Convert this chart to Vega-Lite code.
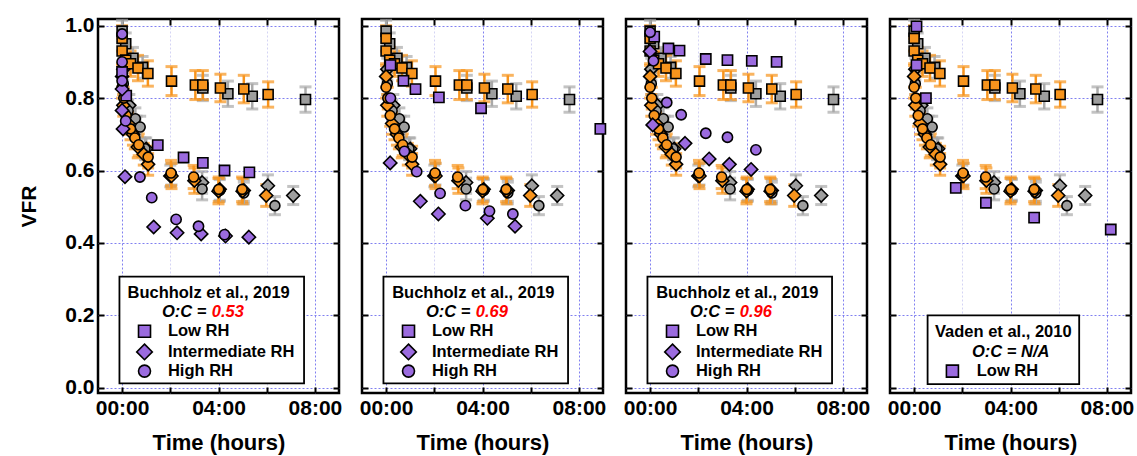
{
  "$schema": "https://vega.github.io/schema/vega-lite/v6.json",
  "background": "white",
  "padding": {"left": 17, "top": 13, "right": 0, "bottom": 0},
  "spacing": 23,
  "bounds": "flush",
  "config": {
    "font": "Liberation Sans",
    "view": {"stroke": "black", "strokeWidth": 2.5},
    "axis": {"domain": false, "tickColor": "black", "tickWidth": 2, "labelColor": "black", "titleColor": "black"}
  },
  "datasets": {
    "study": [
      {"run": "Run 1", "rh": "Low RH", "t": 0.0, "vfr": 0.985, "err": 0.03},
      {"run": "Run 1", "rh": "Low RH", "t": 0.15, "vfr": 0.95, "err": 0.03},
      {"run": "Run 1", "rh": "Low RH", "t": 0.45, "vfr": 0.91, "err": 0.03},
      {"run": "Run 1", "rh": "Low RH", "t": 0.85, "vfr": 0.885, "err": 0.03},
      {"run": "Run 1", "rh": "Low RH", "t": 3.35, "vfr": 0.828, "err": 0.035},
      {"run": "Run 1", "rh": "Low RH", "t": 4.39, "vfr": 0.812, "err": 0.035},
      {"run": "Run 1", "rh": "Low RH", "t": 5.4, "vfr": 0.805, "err": 0.035},
      {"run": "Run 1", "rh": "Low RH", "t": 7.61, "vfr": 0.796, "err": 0.035},
      {"run": "Run 1", "rh": "Intermediate RH", "t": 0.05, "vfr": 0.88, "err": 0.03},
      {"run": "Run 1", "rh": "Intermediate RH", "t": 0.3, "vfr": 0.78, "err": 0.03},
      {"run": "Run 1", "rh": "Intermediate RH", "t": 0.6, "vfr": 0.72, "err": 0.03},
      {"run": "Run 1", "rh": "Intermediate RH", "t": 1.0, "vfr": 0.66, "err": 0.03},
      {"run": "Run 1", "rh": "Intermediate RH", "t": 2.0, "vfr": 0.585, "err": 0.03},
      {"run": "Run 1", "rh": "Intermediate RH", "t": 3.32, "vfr": 0.567, "err": 0.03},
      {"run": "Run 1", "rh": "Intermediate RH", "t": 4.05, "vfr": 0.548, "err": 0.03},
      {"run": "Run 1", "rh": "Intermediate RH", "t": 5.05, "vfr": 0.545, "err": 0.03},
      {"run": "Run 1", "rh": "Intermediate RH", "t": 6.05, "vfr": 0.558, "err": 0.03},
      {"run": "Run 1", "rh": "Intermediate RH", "t": 7.1, "vfr": 0.531, "err": 0.025},
      {"run": "Run 1", "rh": "High RH", "t": 0.05, "vfr": 0.84, "err": 0.03},
      {"run": "Run 1", "rh": "High RH", "t": 0.25, "vfr": 0.765, "err": 0.03},
      {"run": "Run 1", "rh": "High RH", "t": 0.55, "vfr": 0.743, "err": 0.03},
      {"run": "Run 1", "rh": "High RH", "t": 0.75, "vfr": 0.72, "err": 0.03},
      {"run": "Run 1", "rh": "High RH", "t": 0.95, "vfr": 0.66, "err": 0.03},
      {"run": "Run 1", "rh": "High RH", "t": 2.05, "vfr": 0.59, "err": 0.03},
      {"run": "Run 1", "rh": "High RH", "t": 3.32, "vfr": 0.549, "err": 0.03},
      {"run": "Run 1", "rh": "High RH", "t": 4.05, "vfr": 0.545, "err": 0.03},
      {"run": "Run 1", "rh": "High RH", "t": 5.05, "vfr": 0.538, "err": 0.03},
      {"run": "Run 1", "rh": "High RH", "t": 6.34, "vfr": 0.503, "err": 0.025},
      {"run": "Run 2", "rh": "Low RH", "t": 0.0, "vfr": 0.965, "err": 0.035},
      {"run": "Run 2", "rh": "Low RH", "t": 0.0, "vfr": 0.93, "err": 0.035},
      {"run": "Run 2", "rh": "Low RH", "t": 0.15, "vfr": 0.905, "err": 0.035},
      {"run": "Run 2", "rh": "Low RH", "t": 0.35, "vfr": 0.895, "err": 0.035},
      {"run": "Run 2", "rh": "Low RH", "t": 0.66, "vfr": 0.883, "err": 0.035},
      {"run": "Run 2", "rh": "Low RH", "t": 1.07, "vfr": 0.868, "err": 0.035},
      {"run": "Run 2", "rh": "Low RH", "t": 2.05, "vfr": 0.847, "err": 0.04},
      {"run": "Run 2", "rh": "Low RH", "t": 3.04, "vfr": 0.836, "err": 0.04},
      {"run": "Run 2", "rh": "Low RH", "t": 3.35, "vfr": 0.836, "err": 0.04},
      {"run": "Run 2", "rh": "Low RH", "t": 4.08, "vfr": 0.828, "err": 0.038},
      {"run": "Run 2", "rh": "Low RH", "t": 5.05, "vfr": 0.825, "err": 0.038},
      {"run": "Run 2", "rh": "Low RH", "t": 6.06, "vfr": 0.81, "err": 0.035},
      {"run": "Run 2", "rh": "Intermediate RH", "t": 0.0, "vfr": 0.86, "err": 0.03},
      {"run": "Run 2", "rh": "Intermediate RH", "t": 0.05, "vfr": 0.78, "err": 0.03},
      {"run": "Run 2", "rh": "Intermediate RH", "t": 0.25, "vfr": 0.73, "err": 0.03},
      {"run": "Run 2", "rh": "Intermediate RH", "t": 0.45, "vfr": 0.7, "err": 0.03},
      {"run": "Run 2", "rh": "Intermediate RH", "t": 0.65, "vfr": 0.665, "err": 0.03},
      {"run": "Run 2", "rh": "Intermediate RH", "t": 0.9, "vfr": 0.645, "err": 0.03},
      {"run": "Run 2", "rh": "Intermediate RH", "t": 1.08, "vfr": 0.617, "err": 0.03},
      {"run": "Run 2", "rh": "Intermediate RH", "t": 2.05, "vfr": 0.585, "err": 0.035},
      {"run": "Run 2", "rh": "Intermediate RH", "t": 3.0, "vfr": 0.572, "err": 0.035},
      {"run": "Run 2", "rh": "Intermediate RH", "t": 4.0, "vfr": 0.543, "err": 0.035},
      {"run": "Run 2", "rh": "Intermediate RH", "t": 5.0, "vfr": 0.543, "err": 0.035},
      {"run": "Run 2", "rh": "Intermediate RH", "t": 5.98, "vfr": 0.531, "err": 0.03},
      {"run": "Run 2", "rh": "High RH", "t": 0.0, "vfr": 0.83, "err": 0.03},
      {"run": "Run 2", "rh": "High RH", "t": 0.07, "vfr": 0.8, "err": 0.03},
      {"run": "Run 2", "rh": "High RH", "t": 0.17, "vfr": 0.752, "err": 0.03},
      {"run": "Run 2", "rh": "High RH", "t": 0.35, "vfr": 0.715, "err": 0.03},
      {"run": "Run 2", "rh": "High RH", "t": 0.53, "vfr": 0.69, "err": 0.03},
      {"run": "Run 2", "rh": "High RH", "t": 0.69, "vfr": 0.671, "err": 0.03},
      {"run": "Run 2", "rh": "High RH", "t": 1.08, "vfr": 0.637, "err": 0.03},
      {"run": "Run 2", "rh": "High RH", "t": 2.03, "vfr": 0.593, "err": 0.035},
      {"run": "Run 2", "rh": "High RH", "t": 2.97, "vfr": 0.582, "err": 0.032},
      {"run": "Run 2", "rh": "High RH", "t": 4.01, "vfr": 0.548, "err": 0.034},
      {"run": "Run 2", "rh": "High RH", "t": 4.98, "vfr": 0.548, "err": 0.034}
    ],
    "lit": [
      {"oc": "0.53", "rh": "Low RH", "t": 0.0, "vfr": 0.872},
      {"oc": "0.53", "rh": "Low RH", "t": 0.17, "vfr": 0.807},
      {"oc": "0.53", "rh": "Low RH", "t": 1.48, "vfr": 0.67},
      {"oc": "0.53", "rh": "Low RH", "t": 2.55, "vfr": 0.636},
      {"oc": "0.53", "rh": "Low RH", "t": 3.35, "vfr": 0.621},
      {"oc": "0.53", "rh": "Low RH", "t": 4.25, "vfr": 0.6},
      {"oc": "0.53", "rh": "Low RH", "t": 5.28, "vfr": 0.595},
      {"oc": "0.53", "rh": "Intermediate RH", "t": 0.0, "vfr": 0.825},
      {"oc": "0.53", "rh": "Intermediate RH", "t": 0.0, "vfr": 0.766},
      {"oc": "0.53", "rh": "Intermediate RH", "t": 0.04, "vfr": 0.715},
      {"oc": "0.53", "rh": "Intermediate RH", "t": 0.12, "vfr": 0.583},
      {"oc": "0.53", "rh": "Intermediate RH", "t": 1.31, "vfr": 0.444},
      {"oc": "0.53", "rh": "Intermediate RH", "t": 2.28, "vfr": 0.428},
      {"oc": "0.53", "rh": "Intermediate RH", "t": 3.28, "vfr": 0.425},
      {"oc": "0.53", "rh": "Intermediate RH", "t": 4.29, "vfr": 0.419},
      {"oc": "0.53", "rh": "Intermediate RH", "t": 5.26, "vfr": 0.416},
      {"oc": "0.53", "rh": "High RH", "t": 0.0, "vfr": 0.977},
      {"oc": "0.53", "rh": "High RH", "t": 0.0, "vfr": 0.9},
      {"oc": "0.53", "rh": "High RH", "t": 0.0, "vfr": 0.848},
      {"oc": "0.53", "rh": "High RH", "t": 0.15, "vfr": 0.737},
      {"oc": "0.53", "rh": "High RH", "t": 0.74, "vfr": 0.582},
      {"oc": "0.53", "rh": "High RH", "t": 1.23, "vfr": 0.525},
      {"oc": "0.53", "rh": "High RH", "t": 2.24, "vfr": 0.465},
      {"oc": "0.53", "rh": "High RH", "t": 3.17, "vfr": 0.446},
      {"oc": "0.53", "rh": "High RH", "t": 4.25, "vfr": 0.423},
      {"oc": "0.69", "rh": "Low RH", "t": 0.18, "vfr": 0.891},
      {"oc": "0.69", "rh": "Low RH", "t": 0.72, "vfr": 0.848},
      {"oc": "0.69", "rh": "Low RH", "t": 1.22, "vfr": 0.825},
      {"oc": "0.69", "rh": "Low RH", "t": 2.19, "vfr": 0.802},
      {"oc": "0.69", "rh": "Low RH", "t": 3.94, "vfr": 0.772},
      {"oc": "0.69", "rh": "Low RH", "t": 8.89, "vfr": 0.715},
      {"oc": "0.69", "rh": "Intermediate RH", "t": 0.17, "vfr": 0.621},
      {"oc": "0.69", "rh": "Intermediate RH", "t": 1.42, "vfr": 0.515},
      {"oc": "0.69", "rh": "Intermediate RH", "t": 2.17, "vfr": 0.48},
      {"oc": "0.69", "rh": "Intermediate RH", "t": 4.2, "vfr": 0.468},
      {"oc": "0.69", "rh": "Intermediate RH", "t": 5.35, "vfr": 0.446},
      {"oc": "0.69", "rh": "High RH", "t": 0.18, "vfr": 0.8},
      {"oc": "0.69", "rh": "High RH", "t": 0.76, "vfr": 0.653},
      {"oc": "0.69", "rh": "High RH", "t": 1.27, "vfr": 0.597},
      {"oc": "0.69", "rh": "High RH", "t": 2.24, "vfr": 0.537},
      {"oc": "0.69", "rh": "High RH", "t": 3.29, "vfr": 0.503},
      {"oc": "0.69", "rh": "High RH", "t": 4.29, "vfr": 0.488},
      {"oc": "0.69", "rh": "High RH", "t": 5.26, "vfr": 0.48},
      {"oc": "0.96", "rh": "Low RH", "t": 0.17, "vfr": 0.97},
      {"oc": "0.96", "rh": "Low RH", "t": 0.76, "vfr": 0.937},
      {"oc": "0.96", "rh": "Low RH", "t": 1.22, "vfr": 0.931},
      {"oc": "0.96", "rh": "Low RH", "t": 2.31, "vfr": 0.908},
      {"oc": "0.96", "rh": "Low RH", "t": 3.21, "vfr": 0.905},
      {"oc": "0.96", "rh": "Low RH", "t": 4.22, "vfr": 0.903},
      {"oc": "0.96", "rh": "Low RH", "t": 5.25, "vfr": 0.9},
      {"oc": "0.96", "rh": "Intermediate RH", "t": 0.0, "vfr": 0.929},
      {"oc": "0.96", "rh": "Intermediate RH", "t": 0.11, "vfr": 0.726},
      {"oc": "0.96", "rh": "Intermediate RH", "t": 1.45, "vfr": 0.675},
      {"oc": "0.96", "rh": "Intermediate RH", "t": 2.45, "vfr": 0.632},
      {"oc": "0.96", "rh": "Intermediate RH", "t": 3.29, "vfr": 0.617},
      {"oc": "0.96", "rh": "Intermediate RH", "t": 4.19, "vfr": 0.603},
      {"oc": "0.96", "rh": "High RH", "t": 0.0, "vfr": 0.982},
      {"oc": "0.96", "rh": "High RH", "t": 0.14, "vfr": 0.903},
      {"oc": "0.96", "rh": "High RH", "t": 0.69, "vfr": 0.788},
      {"oc": "0.96", "rh": "High RH", "t": 1.29, "vfr": 0.754},
      {"oc": "0.96", "rh": "High RH", "t": 2.31, "vfr": 0.703},
      {"oc": "0.96", "rh": "High RH", "t": 3.21, "vfr": 0.692},
      {"oc": "0.96", "rh": "High RH", "t": 4.39, "vfr": 0.657},
      {"oc": "N/A", "rh": "Low RH", "t": 0.1, "vfr": 0.998},
      {"oc": "N/A", "rh": "Low RH", "t": 0.1, "vfr": 0.891},
      {"oc": "N/A", "rh": "Low RH", "t": 0.49, "vfr": 0.8},
      {"oc": "N/A", "rh": "Low RH", "t": 1.73, "vfr": 0.552},
      {"oc": "N/A", "rh": "Low RH", "t": 2.98, "vfr": 0.511},
      {"oc": "N/A", "rh": "Low RH", "t": 4.98, "vfr": 0.47},
      {"oc": "N/A", "rh": "Low RH", "t": 8.16, "vfr": 0.437}
    ]
  },
  "hconcat": [
    {
      "width": 241, "height": 374,
      "layer": [
        {"data": {"name": "study"},
         "mark": {"type": "errorbar", "thickness": 2.5, "ticks": {"size": 12, "thickness": 3}},
         "encoding": {
           "x": {"field": "t", "type": "quantitative", "scale": {"domain": [-1, 9], "nice": false, "zero": false}, "axis": null},
           "y": {"field": "vfr", "type": "quantitative", "scale": {"domain": [-0.0145, 1.0185], "nice": false, "zero": false}, "axis": null},
           "yError": {"field": "err"},
           "color": {"field": "run", "type": "nominal", "scale": {"domain": ["Run 1", "Run 2"], "range": ["#a9a9a9", "#f7941d"]}, "legend": null}
         }},
        {"data": {"name": "study"},
         "mark": {"type": "point", "filled": true, "opacity": 1, "stroke": "black", "strokeWidth": 1.6, "size": 100},
         "encoding": {
           "x": {"field": "t", "type": "quantitative", "scale": {"domain": [-1, 9], "nice": false, "zero": false},
                 "axis": {"orient": "bottom", "values": [0, 2, 4, 6, 8], "title": "Time (hours)", "titleFontSize": 22, "titleFontWeight": "bold", "titlePadding": 14,
                          "labelFontSize": 21, "labelFontWeight": "bold", "labelPadding": 10, "labelExpr": "datum.value % 4 === 0 ? '0' + datum.value + ':00' : ''",
                          "tickSize": -6, "grid": true, "gridDash": [2, 2], "gridWidth": 1,
                          "gridColor": {"condition": {"test": "datum.value % 4 === 0", "value": "#8080f0"}, "value": "#d4d4f4"}}},
           "y": {"field": "vfr", "type": "quantitative", "scale": {"domain": [-0.0145, 1.0185], "nice": false, "zero": false},
                 "axis": {"orient": "left", "values": [0, 0.2, 0.4, 0.6, 0.8, 1.0], "format": ".1f", "title": "VFR", "titleFontSize": 21, "titleFontWeight": "bold", "titlePadding": 25,
                          "labelFontSize": 21, "labelFontWeight": "bold", "labelPadding": 10, "tickSize": -6,
                          "grid": true, "gridDash": [2, 2], "gridWidth": 1, "gridColor": "#8080f0"}},
           "shape": {"field": "rh", "type": "nominal", "scale": {"domain": ["Low RH", "Intermediate RH", "High RH"], "range": ["square", "M0,-1.3L1.3,0L0,1.3L-1.3,0Z", "circle"]}, "legend": null},
           "fill": {"field": "run", "type": "nominal", "scale": {"domain": ["Run 1", "Run 2"], "range": ["#9e9e9e", "#f7941d"]}, "legend": null}
         }},
        {"data": {"name": "lit"},
         "transform": [{"filter": "datum.oc === '0.53'"}],
         "mark": {"type": "point", "filled": true, "opacity": 1, "fill": "#9b6bdf", "stroke": "black", "strokeWidth": 1.6, "size": 105},
         "encoding": {
           "x": {"field": "t", "type": "quantitative", "scale": {"domain": [-1, 9], "nice": false, "zero": false},
                 "axis": {"orient": "top", "values": [0, 2, 4, 6, 8], "labels": false, "title": null, "tickSize": -6, "grid": false}},
           "y": {"field": "vfr", "type": "quantitative", "scale": {"domain": [-0.0145, 1.0185], "nice": false, "zero": false},
                 "axis": {"orient": "right", "values": [0, 0.2, 0.4, 0.6, 0.8, 1.0], "labels": false, "title": null, "tickSize": -6, "grid": false}},
           "shape": {"field": "rh", "type": "nominal", "scale": {"domain": ["Low RH", "Intermediate RH", "High RH"], "range": ["square", "M0,-1.3L1.3,0L0,1.3L-1.3,0Z", "circle"]}, "legend": null}
         }},
        {"data": {"values": [{}]}, "mark": {"type": "rect", "fill": "white", "stroke": "black", "strokeWidth": 1.8},
         "encoding": {"x": {"datum": -0.11, "type": "quantitative", "axis": null}, "x2": {"datum": 7.55}, "y": {"datum": 0.307, "type": "quantitative", "axis": null}, "y2": {"datum": 0.012}}},
        {"data": {"values": [{}]}, "mark": {"type": "text", "text": "Buchholz et al., 2019", "fontSize": 16.5, "fontWeight": "bold", "align": "center", "baseline": "middle"},
         "encoding": {"x": {"datum": 3.59, "type": "quantitative", "axis": null}, "y": {"datum": 0.263, "type": "quantitative", "axis": null}}},
        {"data": {"values": [{}]}, "mark": {"type": "text", "text": "O:C =", "fontSize": 16.5, "fontWeight": "bold", "fontStyle": "italic", "align": "right", "baseline": "middle"},
         "encoding": {"x": {"datum": 3.5, "type": "quantitative", "axis": null}, "y": {"datum": 0.208, "type": "quantitative", "axis": null}}},
        {"data": {"values": [{}]}, "mark": {"type": "text", "text": "0.53", "color": "#ff0000", "fontSize": 16.5, "fontWeight": "bold", "fontStyle": "italic", "align": "left", "baseline": "middle"},
         "encoding": {"x": {"datum": 3.72, "type": "quantitative", "axis": null}, "y": {"datum": 0.208, "type": "quantitative", "axis": null}}},
        {"data": {"values": [{}]}, "mark": {"type": "point", "shape": "square", "filled": true, "opacity": 1, "fill": "#9b6bdf", "stroke": "black", "strokeWidth": 1.6, "size": 144},
         "encoding": {"x": {"datum": 0.93, "type": "quantitative", "axis": null}, "y": {"datum": 0.156, "type": "quantitative", "axis": null}}},
        {"data": {"values": [{}]}, "mark": {"type": "point", "shape": "M0,-1.3L1.3,0L0,1.3L-1.3,0Z", "filled": true, "opacity": 1, "fill": "#9b6bdf", "stroke": "black", "strokeWidth": 1.6, "size": 144},
         "encoding": {"x": {"datum": 0.93, "type": "quantitative", "axis": null}, "y": {"datum": 0.099, "type": "quantitative", "axis": null}}},
        {"data": {"values": [{}]}, "mark": {"type": "point", "shape": "circle", "filled": true, "opacity": 1, "fill": "#9b6bdf", "stroke": "black", "strokeWidth": 1.6, "size": 144},
         "encoding": {"x": {"datum": 0.93, "type": "quantitative", "axis": null}, "y": {"datum": 0.046, "type": "quantitative", "axis": null}}},
        {"data": {"values": [{}]}, "mark": {"type": "text", "text": "Low RH", "fontSize": 16.5, "fontWeight": "bold", "align": "left", "baseline": "middle"},
         "encoding": {"x": {"datum": 1.9, "type": "quantitative", "axis": null}, "y": {"datum": 0.156, "type": "quantitative", "axis": null}}},
        {"data": {"values": [{}]}, "mark": {"type": "text", "text": "Intermediate RH", "fontSize": 16.5, "fontWeight": "bold", "align": "left", "baseline": "middle"},
         "encoding": {"x": {"datum": 1.9, "type": "quantitative", "axis": null}, "y": {"datum": 0.099, "type": "quantitative", "axis": null}}},
        {"data": {"values": [{}]}, "mark": {"type": "text", "text": "High RH", "fontSize": 16.5, "fontWeight": "bold", "align": "left", "baseline": "middle"},
         "encoding": {"x": {"datum": 1.9, "type": "quantitative", "axis": null}, "y": {"datum": 0.046, "type": "quantitative", "axis": null}}}
      ]
    },
    {
      "width": 241, "height": 374,
      "layer": [
        {"data": {"name": "study"},
         "mark": {"type": "errorbar", "thickness": 2.5, "ticks": {"size": 12, "thickness": 3}},
         "encoding": {
           "x": {"field": "t", "type": "quantitative", "scale": {"domain": [-1, 9], "nice": false, "zero": false}, "axis": null},
           "y": {"field": "vfr", "type": "quantitative", "scale": {"domain": [-0.0145, 1.0185], "nice": false, "zero": false}, "axis": null},
           "yError": {"field": "err"},
           "color": {"field": "run", "type": "nominal", "scale": {"domain": ["Run 1", "Run 2"], "range": ["#a9a9a9", "#f7941d"]}, "legend": null}
         }},
        {"data": {"name": "study"},
         "mark": {"type": "point", "filled": true, "opacity": 1, "stroke": "black", "strokeWidth": 1.6, "size": 100},
         "encoding": {
           "x": {"field": "t", "type": "quantitative", "scale": {"domain": [-1, 9], "nice": false, "zero": false},
                 "axis": {"orient": "bottom", "values": [0, 2, 4, 6, 8], "title": "Time (hours)", "titleFontSize": 22, "titleFontWeight": "bold", "titlePadding": 14,
                          "labelFontSize": 21, "labelFontWeight": "bold", "labelPadding": 10, "labelExpr": "datum.value % 4 === 0 ? '0' + datum.value + ':00' : ''",
                          "tickSize": -6, "grid": true, "gridDash": [2, 2], "gridWidth": 1,
                          "gridColor": {"condition": {"test": "datum.value % 4 === 0", "value": "#8080f0"}, "value": "#d4d4f4"}}},
           "y": {"field": "vfr", "type": "quantitative", "scale": {"domain": [-0.0145, 1.0185], "nice": false, "zero": false},
                 "axis": {"orient": "left", "values": [0, 0.2, 0.4, 0.6, 0.8, 1.0], "labels": false, "title": null, "tickSize": -6,
                          "grid": true, "gridDash": [2, 2], "gridWidth": 1, "gridColor": "#8080f0"}},
           "shape": {"field": "rh", "type": "nominal", "scale": {"domain": ["Low RH", "Intermediate RH", "High RH"], "range": ["square", "M0,-1.3L1.3,0L0,1.3L-1.3,0Z", "circle"]}, "legend": null},
           "fill": {"field": "run", "type": "nominal", "scale": {"domain": ["Run 1", "Run 2"], "range": ["#9e9e9e", "#f7941d"]}, "legend": null}
         }},
        {"data": {"name": "lit"},
         "transform": [{"filter": "datum.oc === '0.69'"}],
         "mark": {"type": "point", "filled": true, "opacity": 1, "fill": "#9b6bdf", "stroke": "black", "strokeWidth": 1.6, "size": 105},
         "encoding": {
           "x": {"field": "t", "type": "quantitative", "scale": {"domain": [-1, 9], "nice": false, "zero": false},
                 "axis": {"orient": "top", "values": [0, 2, 4, 6, 8], "labels": false, "title": null, "tickSize": -6, "grid": false}},
           "y": {"field": "vfr", "type": "quantitative", "scale": {"domain": [-0.0145, 1.0185], "nice": false, "zero": false},
                 "axis": {"orient": "right", "values": [0, 0.2, 0.4, 0.6, 0.8, 1.0], "labels": false, "title": null, "tickSize": -6, "grid": false}},
           "shape": {"field": "rh", "type": "nominal", "scale": {"domain": ["Low RH", "Intermediate RH", "High RH"], "range": ["square", "M0,-1.3L1.3,0L0,1.3L-1.3,0Z", "circle"]}, "legend": null}
         }},
        {"data": {"values": [{}]}, "mark": {"type": "rect", "fill": "white", "stroke": "black", "strokeWidth": 1.8},
         "encoding": {"x": {"datum": -0.11, "type": "quantitative", "axis": null}, "x2": {"datum": 7.55}, "y": {"datum": 0.307, "type": "quantitative", "axis": null}, "y2": {"datum": 0.012}}},
        {"data": {"values": [{}]}, "mark": {"type": "text", "text": "Buchholz et al., 2019", "fontSize": 16.5, "fontWeight": "bold", "align": "center", "baseline": "middle"},
         "encoding": {"x": {"datum": 3.62, "type": "quantitative", "axis": null}, "y": {"datum": 0.263, "type": "quantitative", "axis": null}}},
        {"data": {"values": [{}]}, "mark": {"type": "text", "text": "O:C =", "fontSize": 16.5, "fontWeight": "bold", "fontStyle": "italic", "align": "right", "baseline": "middle"},
         "encoding": {"x": {"datum": 3.5, "type": "quantitative", "axis": null}, "y": {"datum": 0.208, "type": "quantitative", "axis": null}}},
        {"data": {"values": [{}]}, "mark": {"type": "text", "text": "0.69", "color": "#ff0000", "fontSize": 16.5, "fontWeight": "bold", "fontStyle": "italic", "align": "left", "baseline": "middle"},
         "encoding": {"x": {"datum": 3.72, "type": "quantitative", "axis": null}, "y": {"datum": 0.208, "type": "quantitative", "axis": null}}},
        {"data": {"values": [{}]}, "mark": {"type": "point", "shape": "square", "filled": true, "opacity": 1, "fill": "#9b6bdf", "stroke": "black", "strokeWidth": 1.6, "size": 144},
         "encoding": {"x": {"datum": 0.93, "type": "quantitative", "axis": null}, "y": {"datum": 0.156, "type": "quantitative", "axis": null}}},
        {"data": {"values": [{}]}, "mark": {"type": "point", "shape": "M0,-1.3L1.3,0L0,1.3L-1.3,0Z", "filled": true, "opacity": 1, "fill": "#9b6bdf", "stroke": "black", "strokeWidth": 1.6, "size": 144},
         "encoding": {"x": {"datum": 0.93, "type": "quantitative", "axis": null}, "y": {"datum": 0.099, "type": "quantitative", "axis": null}}},
        {"data": {"values": [{}]}, "mark": {"type": "point", "shape": "circle", "filled": true, "opacity": 1, "fill": "#9b6bdf", "stroke": "black", "strokeWidth": 1.6, "size": 144},
         "encoding": {"x": {"datum": 0.93, "type": "quantitative", "axis": null}, "y": {"datum": 0.046, "type": "quantitative", "axis": null}}},
        {"data": {"values": [{}]}, "mark": {"type": "text", "text": "Low RH", "fontSize": 16.5, "fontWeight": "bold", "align": "left", "baseline": "middle"},
         "encoding": {"x": {"datum": 1.9, "type": "quantitative", "axis": null}, "y": {"datum": 0.156, "type": "quantitative", "axis": null}}},
        {"data": {"values": [{}]}, "mark": {"type": "text", "text": "Intermediate RH", "fontSize": 16.5, "fontWeight": "bold", "align": "left", "baseline": "middle"},
         "encoding": {"x": {"datum": 1.9, "type": "quantitative", "axis": null}, "y": {"datum": 0.099, "type": "quantitative", "axis": null}}},
        {"data": {"values": [{}]}, "mark": {"type": "text", "text": "High RH", "fontSize": 16.5, "fontWeight": "bold", "align": "left", "baseline": "middle"},
         "encoding": {"x": {"datum": 1.9, "type": "quantitative", "axis": null}, "y": {"datum": 0.046, "type": "quantitative", "axis": null}}}
      ]
    },
    {
      "width": 241, "height": 374,
      "layer": [
        {"data": {"name": "study"},
         "mark": {"type": "errorbar", "thickness": 2.5, "ticks": {"size": 12, "thickness": 3}},
         "encoding": {
           "x": {"field": "t", "type": "quantitative", "scale": {"domain": [-1, 9], "nice": false, "zero": false}, "axis": null},
           "y": {"field": "vfr", "type": "quantitative", "scale": {"domain": [-0.0145, 1.0185], "nice": false, "zero": false}, "axis": null},
           "yError": {"field": "err"},
           "color": {"field": "run", "type": "nominal", "scale": {"domain": ["Run 1", "Run 2"], "range": ["#a9a9a9", "#f7941d"]}, "legend": null}
         }},
        {"data": {"name": "study"},
         "mark": {"type": "point", "filled": true, "opacity": 1, "stroke": "black", "strokeWidth": 1.6, "size": 100},
         "encoding": {
           "x": {"field": "t", "type": "quantitative", "scale": {"domain": [-1, 9], "nice": false, "zero": false},
                 "axis": {"orient": "bottom", "values": [0, 2, 4, 6, 8], "title": "Time (hours)", "titleFontSize": 22, "titleFontWeight": "bold", "titlePadding": 14,
                          "labelFontSize": 21, "labelFontWeight": "bold", "labelPadding": 10, "labelExpr": "datum.value % 4 === 0 ? '0' + datum.value + ':00' : ''",
                          "tickSize": -6, "grid": true, "gridDash": [2, 2], "gridWidth": 1,
                          "gridColor": {"condition": {"test": "datum.value % 4 === 0", "value": "#8080f0"}, "value": "#d4d4f4"}}},
           "y": {"field": "vfr", "type": "quantitative", "scale": {"domain": [-0.0145, 1.0185], "nice": false, "zero": false},
                 "axis": {"orient": "left", "values": [0, 0.2, 0.4, 0.6, 0.8, 1.0], "labels": false, "title": null, "tickSize": -6,
                          "grid": true, "gridDash": [2, 2], "gridWidth": 1, "gridColor": "#8080f0"}},
           "shape": {"field": "rh", "type": "nominal", "scale": {"domain": ["Low RH", "Intermediate RH", "High RH"], "range": ["square", "M0,-1.3L1.3,0L0,1.3L-1.3,0Z", "circle"]}, "legend": null},
           "fill": {"field": "run", "type": "nominal", "scale": {"domain": ["Run 1", "Run 2"], "range": ["#9e9e9e", "#f7941d"]}, "legend": null}
         }},
        {"data": {"name": "lit"},
         "transform": [{"filter": "datum.oc === '0.96'"}],
         "mark": {"type": "point", "filled": true, "opacity": 1, "fill": "#9b6bdf", "stroke": "black", "strokeWidth": 1.6, "size": 105},
         "encoding": {
           "x": {"field": "t", "type": "quantitative", "scale": {"domain": [-1, 9], "nice": false, "zero": false},
                 "axis": {"orient": "top", "values": [0, 2, 4, 6, 8], "labels": false, "title": null, "tickSize": -6, "grid": false}},
           "y": {"field": "vfr", "type": "quantitative", "scale": {"domain": [-0.0145, 1.0185], "nice": false, "zero": false},
                 "axis": {"orient": "right", "values": [0, 0.2, 0.4, 0.6, 0.8, 1.0], "labels": false, "title": null, "tickSize": -6, "grid": false}},
           "shape": {"field": "rh", "type": "nominal", "scale": {"domain": ["Low RH", "Intermediate RH", "High RH"], "range": ["square", "M0,-1.3L1.3,0L0,1.3L-1.3,0Z", "circle"]}, "legend": null}
         }},
        {"data": {"values": [{}]}, "mark": {"type": "rect", "fill": "white", "stroke": "black", "strokeWidth": 1.8},
         "encoding": {"x": {"datum": -0.11, "type": "quantitative", "axis": null}, "x2": {"datum": 7.55}, "y": {"datum": 0.307, "type": "quantitative", "axis": null}, "y2": {"datum": 0.012}}},
        {"data": {"values": [{}]}, "mark": {"type": "text", "text": "Buchholz et al., 2019", "fontSize": 16.5, "fontWeight": "bold", "align": "center", "baseline": "middle"},
         "encoding": {"x": {"datum": 3.62, "type": "quantitative", "axis": null}, "y": {"datum": 0.263, "type": "quantitative", "axis": null}}},
        {"data": {"values": [{}]}, "mark": {"type": "text", "text": "O:C =", "fontSize": 16.5, "fontWeight": "bold", "fontStyle": "italic", "align": "right", "baseline": "middle"},
         "encoding": {"x": {"datum": 3.5, "type": "quantitative", "axis": null}, "y": {"datum": 0.208, "type": "quantitative", "axis": null}}},
        {"data": {"values": [{}]}, "mark": {"type": "text", "text": "0.96", "color": "#ff0000", "fontSize": 16.5, "fontWeight": "bold", "fontStyle": "italic", "align": "left", "baseline": "middle"},
         "encoding": {"x": {"datum": 3.72, "type": "quantitative", "axis": null}, "y": {"datum": 0.208, "type": "quantitative", "axis": null}}},
        {"data": {"values": [{}]}, "mark": {"type": "point", "shape": "square", "filled": true, "opacity": 1, "fill": "#9b6bdf", "stroke": "black", "strokeWidth": 1.6, "size": 144},
         "encoding": {"x": {"datum": 0.93, "type": "quantitative", "axis": null}, "y": {"datum": 0.156, "type": "quantitative", "axis": null}}},
        {"data": {"values": [{}]}, "mark": {"type": "point", "shape": "M0,-1.3L1.3,0L0,1.3L-1.3,0Z", "filled": true, "opacity": 1, "fill": "#9b6bdf", "stroke": "black", "strokeWidth": 1.6, "size": 144},
         "encoding": {"x": {"datum": 0.93, "type": "quantitative", "axis": null}, "y": {"datum": 0.099, "type": "quantitative", "axis": null}}},
        {"data": {"values": [{}]}, "mark": {"type": "point", "shape": "circle", "filled": true, "opacity": 1, "fill": "#9b6bdf", "stroke": "black", "strokeWidth": 1.6, "size": 144},
         "encoding": {"x": {"datum": 0.93, "type": "quantitative", "axis": null}, "y": {"datum": 0.046, "type": "quantitative", "axis": null}}},
        {"data": {"values": [{}]}, "mark": {"type": "text", "text": "Low RH", "fontSize": 16.5, "fontWeight": "bold", "align": "left", "baseline": "middle"},
         "encoding": {"x": {"datum": 1.9, "type": "quantitative", "axis": null}, "y": {"datum": 0.156, "type": "quantitative", "axis": null}}},
        {"data": {"values": [{}]}, "mark": {"type": "text", "text": "Intermediate RH", "fontSize": 16.5, "fontWeight": "bold", "align": "left", "baseline": "middle"},
         "encoding": {"x": {"datum": 1.9, "type": "quantitative", "axis": null}, "y": {"datum": 0.099, "type": "quantitative", "axis": null}}},
        {"data": {"values": [{}]}, "mark": {"type": "text", "text": "High RH", "fontSize": 16.5, "fontWeight": "bold", "align": "left", "baseline": "middle"},
         "encoding": {"x": {"datum": 1.9, "type": "quantitative", "axis": null}, "y": {"datum": 0.046, "type": "quantitative", "axis": null}}}
      ]
    },
    {
      "width": 241, "height": 374,
      "layer": [
        {"data": {"name": "study"},
         "mark": {"type": "errorbar", "thickness": 2.5, "ticks": {"size": 12, "thickness": 3}},
         "encoding": {
           "x": {"field": "t", "type": "quantitative", "scale": {"domain": [-1, 9], "nice": false, "zero": false}, "axis": null},
           "y": {"field": "vfr", "type": "quantitative", "scale": {"domain": [-0.0145, 1.0185], "nice": false, "zero": false}, "axis": null},
           "yError": {"field": "err"},
           "color": {"field": "run", "type": "nominal", "scale": {"domain": ["Run 1", "Run 2"], "range": ["#a9a9a9", "#f7941d"]}, "legend": null}
         }},
        {"data": {"name": "study"},
         "mark": {"type": "point", "filled": true, "opacity": 1, "stroke": "black", "strokeWidth": 1.6, "size": 100},
         "encoding": {
           "x": {"field": "t", "type": "quantitative", "scale": {"domain": [-1, 9], "nice": false, "zero": false},
                 "axis": {"orient": "bottom", "values": [0, 2, 4, 6, 8], "title": "Time (hours)", "titleFontSize": 22, "titleFontWeight": "bold", "titlePadding": 14,
                          "labelFontSize": 21, "labelFontWeight": "bold", "labelPadding": 10, "labelExpr": "datum.value % 4 === 0 ? '0' + datum.value + ':00' : ''",
                          "tickSize": -6, "grid": true, "gridDash": [2, 2], "gridWidth": 1,
                          "gridColor": {"condition": {"test": "datum.value % 4 === 0", "value": "#8080f0"}, "value": "#d4d4f4"}}},
           "y": {"field": "vfr", "type": "quantitative", "scale": {"domain": [-0.0145, 1.0185], "nice": false, "zero": false},
                 "axis": {"orient": "left", "values": [0, 0.2, 0.4, 0.6, 0.8, 1.0], "labels": false, "title": null, "tickSize": -6,
                          "grid": true, "gridDash": [2, 2], "gridWidth": 1, "gridColor": "#8080f0"}},
           "shape": {"field": "rh", "type": "nominal", "scale": {"domain": ["Low RH", "Intermediate RH", "High RH"], "range": ["square", "M0,-1.3L1.3,0L0,1.3L-1.3,0Z", "circle"]}, "legend": null},
           "fill": {"field": "run", "type": "nominal", "scale": {"domain": ["Run 1", "Run 2"], "range": ["#9e9e9e", "#f7941d"]}, "legend": null}
         }},
        {"data": {"name": "lit"},
         "transform": [{"filter": "datum.oc === 'N/A'"}],
         "mark": {"type": "point", "filled": true, "opacity": 1, "fill": "#9b6bdf", "stroke": "black", "strokeWidth": 1.6, "size": 105},
         "encoding": {
           "x": {"field": "t", "type": "quantitative", "scale": {"domain": [-1, 9], "nice": false, "zero": false},
                 "axis": {"orient": "top", "values": [0, 2, 4, 6, 8], "labels": false, "title": null, "tickSize": -6, "grid": false}},
           "y": {"field": "vfr", "type": "quantitative", "scale": {"domain": [-0.0145, 1.0185], "nice": false, "zero": false},
                 "axis": {"orient": "right", "values": [0, 0.2, 0.4, 0.6, 0.8, 1.0], "labels": false, "title": null, "tickSize": -6, "grid": false}},
           "shape": {"field": "rh", "type": "nominal", "scale": {"domain": ["Low RH", "Intermediate RH", "High RH"], "range": ["square", "M0,-1.3L1.3,0L0,1.3L-1.3,0Z", "circle"]}, "legend": null}
         }},
        {"data": {"values": [{}]}, "mark": {"type": "rect", "fill": "white", "stroke": "black", "strokeWidth": 1.8},
         "encoding": {"x": {"datum": 0.56, "type": "quantitative", "axis": null}, "x2": {"datum": 6.85}, "y": {"datum": 0.2, "type": "quantitative", "axis": null}, "y2": {"datum": 0.01}}},
        {"data": {"values": [{}]}, "mark": {"type": "text", "text": "Vaden et al., 2010", "fontSize": 16.5, "fontWeight": "bold", "align": "center", "baseline": "middle"},
         "encoding": {"x": {"datum": 3.7, "type": "quantitative", "axis": null}, "y": {"datum": 0.154, "type": "quantitative", "axis": null}}},
        {"data": {"values": [{}]}, "mark": {"type": "text", "text": "O:C = N/A", "fontSize": 16.5, "fontWeight": "bold", "fontStyle": "italic", "align": "center", "baseline": "middle"},
         "encoding": {"x": {"datum": 4.01, "type": "quantitative", "axis": null}, "y": {"datum": 0.099, "type": "quantitative", "axis": null}}},
        {"data": {"values": [{}]}, "mark": {"type": "point", "shape": "square", "filled": true, "opacity": 1, "fill": "#9b6bdf", "stroke": "black", "strokeWidth": 1.6, "size": 144},
         "encoding": {"x": {"datum": 1.59, "type": "quantitative", "axis": null}, "y": {"datum": 0.046, "type": "quantitative", "axis": null}}},
        {"data": {"values": [{}]}, "mark": {"type": "text", "text": "Low RH", "fontSize": 16.5, "fontWeight": "bold", "align": "left", "baseline": "middle"},
         "encoding": {"x": {"datum": 2.6, "type": "quantitative", "axis": null}, "y": {"datum": 0.046, "type": "quantitative", "axis": null}}}
      ]
    }
  ]
}
